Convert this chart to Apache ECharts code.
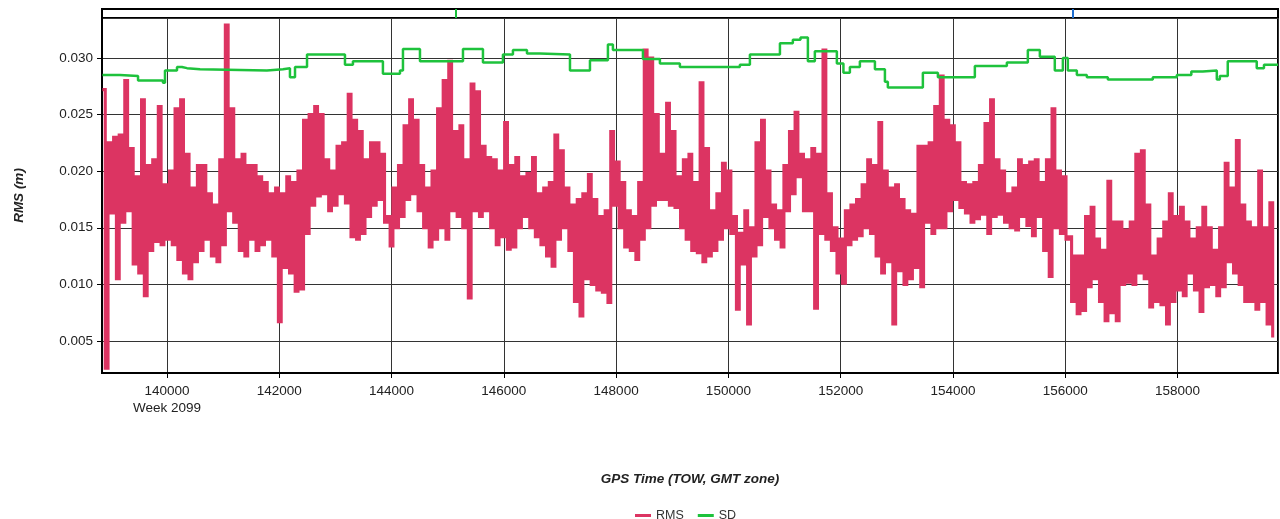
<!DOCTYPE html>
<html><head><meta charset="utf-8">
<script src="https://cdn.jsdelivr.net/npm/echarts/dist/echarts.min.js"></script>
<style>html,body{margin:0;padding:0;background:#fff}#c{width:1280px;height:519px}</style>
</head><body><div id="c"></div>
<script>
// ---- data ----
const T_START = 138850;       // GPS TOW of first sample bucket (s)
const T_STEP = 99.5;          // bucket width (s)
// per-bucket high / low RMS values (m)
const rmsHigh = [
0.0272,0.0225,0.0230,0.0232,0.0280,0.0220,0.0195,0.0263,0.0205,0.0210,
0.0257,0.0188,0.0200,0.0255,0.0263,0.0215,0.0185,0.0205,0.0205,0.0180,
0.0170,0.0210,0.0329,0.0255,0.0210,0.0215,0.0205,0.0205,0.0195,0.0190,
0.0180,0.0185,0.0180,0.0195,0.0190,0.0200,0.0245,0.0250,0.0257,0.0250,
0.0210,0.0200,0.0222,0.0225,0.0268,0.0245,0.0235,0.0210,0.0225,0.0225,
0.0215,0.0160,0.0185,0.0205,0.0240,0.0263,0.0245,0.0205,0.0185,0.0200,
0.0255,0.0280,0.0297,0.0235,0.0240,0.0210,0.0277,0.0270,0.0222,0.0212,
0.0210,0.0200,0.0243,0.0205,0.0212,0.0195,0.0198,0.0212,0.0180,0.0185,
0.0190,0.0232,0.0218,0.0185,0.0170,0.0175,0.0180,0.0197,0.0175,0.0160,
0.0165,0.0235,0.0208,0.0190,0.0165,0.0160,0.0190,0.0307,0.0300,0.0250,
0.0215,0.0260,0.0235,0.0195,0.0210,0.0215,0.0190,0.0278,0.0220,0.0165,
0.0180,0.0207,0.0200,0.0160,0.0145,0.0165,0.0150,0.0225,0.0245,0.0200,
0.0170,0.0165,0.0205,0.0235,0.0252,0.0215,0.0210,0.0220,0.0215,0.0307,
0.0180,0.0150,0.0140,0.0165,0.0170,0.0175,0.0188,0.0210,0.0205,0.0243,
0.0200,0.0185,0.0188,0.0175,0.0165,0.0162,0.0222,0.0222,0.0225,0.0257,
0.0284,0.0245,0.0240,0.0225,0.0190,0.0188,0.0190,0.0205,0.0242,0.0263,
0.0210,0.0200,0.0180,0.0185,0.0210,0.0205,0.0208,0.0210,0.0190,0.0210,
0.0255,0.0200,0.0195,0.0142,0.0125,0.0125,0.0160,0.0168,0.0140,0.0130,
0.0191,0.0155,0.0155,0.0148,0.0155,0.0215,0.0218,0.0170,0.0125,0.0140,
0.0155,0.0180,0.0160,0.0168,0.0155,0.0140,0.0150,0.0168,0.0150,0.0130,
0.0150,0.0207,0.0185,0.0227,0.0170,0.0155,0.0150,0.0200,0.0150,0.0172
];
const rmsLow = [
0.0026,0.0163,0.0105,0.0155,0.0165,0.0118,0.0110,0.0090,0.0130,0.0138,
0.0135,0.0140,0.0135,0.0122,0.0110,0.0105,0.0120,0.0130,0.0140,0.0125,
0.0120,0.0135,0.0165,0.0155,0.0130,0.0125,0.0140,0.0130,0.0135,0.0140,
0.0125,0.0067,0.0115,0.0110,0.0094,0.0096,0.0145,0.0170,0.0178,0.0180,
0.0165,0.0170,0.0180,0.0172,0.0142,0.0140,0.0145,0.0160,0.0170,0.0175,
0.0155,0.0134,0.0150,0.0160,0.0175,0.0180,0.0165,0.0150,0.0133,0.0140,
0.0150,0.0140,0.0165,0.0160,0.0150,0.0088,0.0165,0.0160,0.0165,0.0150,
0.0135,0.0142,0.0131,0.0133,0.0150,0.0160,0.0150,0.0142,0.0135,0.0125,
0.0116,0.0140,0.0150,0.0130,0.0085,0.0072,0.0105,0.0100,0.0095,0.0093,
0.0084,0.0170,0.0150,0.0133,0.0130,0.0122,0.0140,0.0150,0.0170,0.0175,
0.0175,0.0170,0.0168,0.0150,0.0140,0.0130,0.0128,0.0120,0.0125,0.0130,
0.0140,0.0150,0.0145,0.0078,0.0118,0.0065,0.0125,0.0135,0.0160,0.0150,
0.0140,0.0133,0.0165,0.0180,0.0195,0.0165,0.0165,0.0079,0.0145,0.0140,
0.0130,0.0110,0.0101,0.0135,0.0140,0.0143,0.0150,0.0145,0.0125,0.0110,
0.0120,0.0065,0.0112,0.0100,0.0105,0.0115,0.0098,0.0155,0.0145,0.0150,
0.0150,0.0165,0.0175,0.0168,0.0163,0.0155,0.0158,0.0162,0.0145,0.0160,
0.0162,0.0155,0.0150,0.0148,0.0160,0.0152,0.0143,0.0160,0.0130,0.0107,
0.0150,0.0145,0.0140,0.0085,0.0074,0.0077,0.0098,0.0105,0.0085,0.0068,
0.0075,0.0068,0.0100,0.0102,0.0100,0.0110,0.0105,0.0080,0.0085,0.0082,
0.0065,0.0085,0.0095,0.0090,0.0110,0.0095,0.0076,0.0098,0.0100,0.0090,
0.0098,0.0120,0.0110,0.0100,0.0085,0.0085,0.0078,0.0085,0.0065,0.0053
];
// SD step line: change times (s) and values (m)
const sdTime = [138850,139162,139484,139928,139964,140178,140266,140356,140588,141780,
142066,142190,142280,142494,143170,143312,143846,144150,144203,144506,
145272,145628,145984,146162,146412,146642,147178,147534,147854,147943,
148478,148780,149136,150204,150383,150918,151148,151284,151416,151540,
151932,152049,152164,152342,152610,152788,152840,153464,153732,154390,
154960,155334,155548,155814,155958,156046,156207,156385,156759,157560,
157988,158246,158450,158700,158754,158895,159411,159540,159790];
const sdValue = [0.0285,0.0284,0.0280,0.0278,0.0289,0.0292,0.0291,0.0290,0.0289,0.0290,
0.0291,0.0283,0.0292,0.0303,0.0294,0.0297,0.0286,0.0289,0.0308,0.0297,
0.0308,0.0296,0.0303,0.0307,0.0304,0.0303,0.0289,0.0298,0.0312,0.0307,
0.0299,0.0295,0.0292,0.0294,0.0303,0.0313,0.0316,0.0318,0.0297,0.0306,
0.0295,0.0287,0.0292,0.0297,0.0290,0.0279,0.0274,0.0287,0.0283,0.0293,
0.0296,0.0307,0.0301,0.0289,0.0300,0.0289,0.0285,0.0283,0.0281,0.0283,
0.0285,0.0288,0.0289,0.0281,0.0284,0.0297,0.0291,0.0294,0.0294];
const xMin = 138842, xMax = 159790;
const yMin = 0.00217, yMax = 0.03353;
const xStep = 2000, yStep = 0.005;
const weekTick = 140000, weekLabel = 'Week 2099';
const markerTimes = [145140, 156130];
const markerColors = ['#19c03a', '#1f6fd1'];
const seriesNames = ['RMS', 'SD'];
const colors = ['#dc3462', '#1ec23c'];

// ---- build series data ----
const rmsData = [];
for (let k = 0; k < rmsHigh.length; k++) {
  const t = T_START + k * T_STEP;
  rmsData.push([t, rmsHigh[k]]);
  rmsData.push([t + T_STEP / 2, rmsLow[k]]);
}
const sdData = sdTime.map((t, i) => [t, sdValue[i]]);

const FONT = '"Liberation Sans", Arial, sans-serif';
const chart = echarts.init(document.getElementById('c'), null, {renderer: 'canvas'});
chart.setOption({
  animation: false,
  backgroundColor: '#fff',
  textStyle: {fontFamily: FONT},
  grid: [
    {left: 102, right: 2, top: 18, bottom: 146, show: true, borderColor: '#000', borderWidth: 2},
    {left: 102, right: 2, top: 9, height: 9, show: true, borderColor: '#000', borderWidth: 2}
  ],
  legend: {
    data: seriesNames, left: 630, top: 504, icon: 'rect', itemWidth: 16, itemHeight: 3, itemGap: 14,
    textStyle: {fontFamily: FONT, fontSize: 12.5, color: '#333'}
  },
  xAxis: [{
    type: 'value', gridIndex: 0, min: xMin, max: xMax,
    minInterval: xStep, maxInterval: xStep, splitNumber: 10,
    axisLine: {show: true, lineStyle: {color: '#000', width: 2}},
    axisTick: {show: true, length: 5, lineStyle: {color: '#000'}},
    axisLabel: {
      fontFamily: FONT, fontSize: 13.5, color: '#222', margin: 10, lineHeight: 17,
      showMinLabel: false, showMaxLabel: false,
      formatter: v => v === weekTick ? v + '\n' + weekLabel : String(v)
    },
    splitLine: {show: true, lineStyle: {color: '#333', width: 1}},
    name: 'GPS Time (TOW, GMT zone)', nameLocation: 'middle', nameGap: 99,
    nameTextStyle: {fontFamily: FONT, fontStyle: 'italic', fontWeight: 'bold', fontSize: 13.5, color: '#222'}
  }, {
    type: 'value', gridIndex: 1, min: xMin, max: xMax, show: false, splitLine: {show: false}
  }],
  yAxis: [{
    type: 'value', gridIndex: 0, min: yMin, max: yMax,
    minInterval: yStep, maxInterval: yStep, splitNumber: 6,
    axisLine: {show: true, lineStyle: {color: '#000', width: 2}},
    axisTick: {show: true, length: 5, lineStyle: {color: '#000'}},
    axisLabel: {
      fontFamily: FONT, fontSize: 13.5, color: '#222', margin: 9,
      showMinLabel: false, showMaxLabel: false,
      formatter: v => v.toFixed(3)
    },
    splitLine: {show: true, lineStyle: {color: '#333', width: 1}},
    name: 'RMS (m)', nameLocation: 'middle', nameGap: 76,
    nameTextStyle: {fontFamily: FONT, fontStyle: 'italic', fontWeight: 'bold', fontSize: 13.5, color: '#222'}
  }, {
    type: 'value', gridIndex: 1, min: 0, max: 1, show: false, splitLine: {show: false}
  }],
  series: [{
    name: seriesNames[0], type: 'line', xAxisIndex: 0, yAxisIndex: 0, step: 'end',
    data: rmsData, symbol: 'none', sampling: null, z: 3,
    lineStyle: {color: colors[0], width: 3.1, join: 'miter', cap: 'butt'}, itemStyle: {color: colors[0]}
  }, {
    name: seriesNames[1], type: 'line', xAxisIndex: 0, yAxisIndex: 0, step: 'end',
    data: sdData, symbol: 'none', z: 4,
    lineStyle: {color: colors[1], width: 2.5}, itemStyle: {color: colors[1]}
  }, {
    name: 'markers', type: 'line', xAxisIndex: 1, yAxisIndex: 1, data: [], silent: true,
    markLine: {
      symbol: 'none', silent: true, label: {show: false}, animation: false,
      data: markerTimes.map((t, i) => ({xAxis: t, lineStyle: {color: markerColors[i], width: 2, type: 'solid'}}))
    }
  }]
});
</script></body></html>
